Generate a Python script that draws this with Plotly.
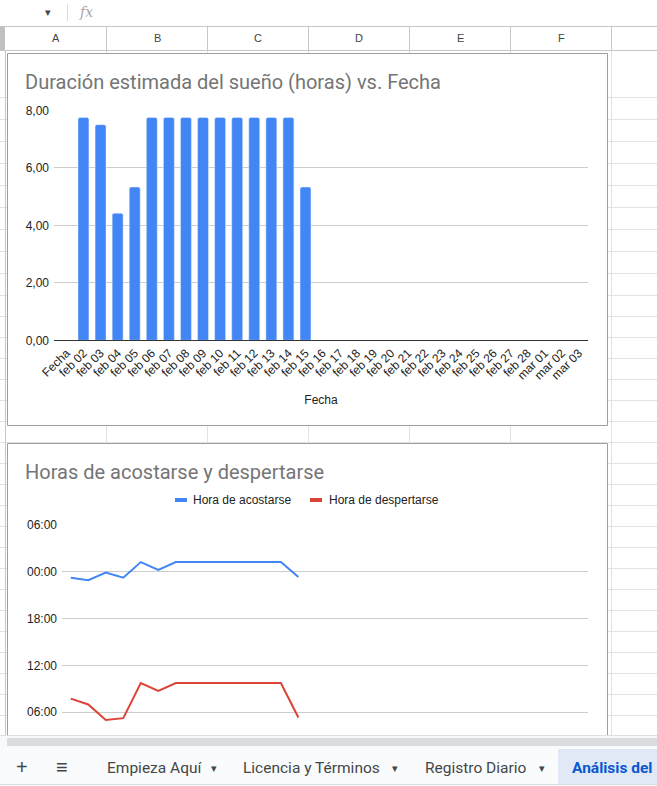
import plotly.graph_objects as go

# ---------------- data ----------------
fechas_1 = ["Fecha", "feb 02", "feb 03", "feb 04", "feb 05", "feb 06", "feb 07", "feb 08",
            "feb 09", "feb 10", "feb 11", "feb 12", "feb 13", "feb 14", "feb 15", "feb 16",
            "feb 17", "feb 18", "feb 19", "feb 20", "feb 21", "feb 22", "feb 23", "feb 24",
            "feb 25", "feb 26", "feb 27", "feb 28", "mar 01", "mar 02", "mar 03"]
duracion_horas = [None, 7.75, 7.5, 4.42, 5.33, 7.75, 7.75, 7.75, 7.75, 7.75, 7.75, 7.75,
                  7.75, 7.75, 5.33, None, None, None, None, None, None, None, None, None,
                  None, None, None, None, None, None, None]

fechas_2 = fechas_1[1:]
hora_acostarse = ["23:15", "22:55", "23:55", "23:15", "01:15", "00:15", "01:15", "01:15",
                  "01:15", "01:15", "01:15", "01:15", "01:15", "23:20"]
hora_despertarse = ["07:45", "07:00", "05:00", "05:15", "09:45", "08:45", "09:45", "09:45",
                    "09:45", "09:45", "09:45", "09:45", "09:45", "05:20"]
y_ticks_1 = [0, 2, 4, 6, 8]
y_ticks_2 = [6, 12, 18, 24, 30]
y_ticktext_2 = ["06:00", "12:00", "18:00", "00:00", "06:00"]

sheet_cols = ["A", "B", "C", "D", "E", "F"]
sheet_tabs = ["Empieza Aquí", "Licencia y Términos", "Registro Diario"]
active_tab = "Análisis del"


def to_hours(s, night=False):
    h, m = s.split(":")
    v = int(h) + int(m) / 60
    if night and v < 12:
        v += 24
    return v


acostarse_y = [to_hours(s, night=True) for s in hora_acostarse]
despertarse_y = [to_hours(s) for s in hora_despertarse]

# ---------------- geometry helpers ----------------
W, H = 657, 786


def px(x):
    return x / W


def py(y):
    return 1 - y / H


BLUE = "#4285F4"
RED = "#DB4437"
GRID = "#cccccc"
CELL = "#e2e2e2"
HDR = "#c7c7c7"
FONT = "Liberation Sans, Arial, sans-serif"
TFONT = "Roboto, Arial, sans-serif"

fig = go.Figure()

fig.add_trace(go.Bar(x=fechas_1, y=duracion_horas, marker_color=BLUE,
                     xaxis="x", yaxis="y", hoverinfo="x+y"))
fig.add_trace(go.Scatter(x=fechas_2[:len(acostarse_y)], y=acostarse_y, mode="lines",
                         line=dict(color=BLUE, width=2), xaxis="x2", yaxis="y2",
                         name="Hora de acostarse"))
fig.add_trace(go.Scatter(x=fechas_2[:len(despertarse_y)], y=despertarse_y, mode="lines",
                         line=dict(color=RED, width=2), xaxis="x2", yaxis="y2",
                         name="Hora de despertarse"))

shapes = []
annots = []


def line(x0, y0, x1, y1, color, width=1, layer="below"):
    shapes.append(dict(type="line", xref="paper", yref="paper", x0=px(x0), y0=py(y0),
                       x1=px(x1), y1=py(y1), line=dict(color=color, width=width), layer=layer))


def rect(x0, y0, x1, y1, fill, lc=None, lw=0, layer="below"):
    shapes.append(dict(type="rect", xref="paper", yref="paper", x0=px(x0), y0=py(y0),
                       x1=px(x1), y1=py(y1), fillcolor=fill,
                       line=dict(color=lc or fill, width=lw), layer=layer))


def text(x, y, t, size=12, color="#222222", xanchor="left", family=FONT, **kw):
    if xanchor == "left":
        x -= 2
    annots.append(dict(xref="paper", yref="paper", x=px(x), y=py(y), text=t, showarrow=False,
                       xanchor=xanchor, yanchor="middle",
                       font=dict(size=size, color=color, family=family), **kw))


# ---- spreadsheet background ----
col_edges = [5.5, 106.5, 207.5, 308.5, 409.5, 510.5, 611.5]
row_lines = [97 + 22 * k for k in range(10)] + [316 + 21 * k for k in range(20)]
for y in row_lines:
    if 50 < y < 735:
        line(0, y + 0.5, W, y + 0.5, CELL)
for x in col_edges[1:]:
    line(x, 50, x, 735, CELL)
line(5.5, 50, 5.5, 735, HDR)
# header row
rect(0, 26, 5, 50, "#c0c0c0")
line(0, 26.5, W, 26.5, HDR)
line(0, 50.5, W, 50.5, HDR)
for x in col_edges[1:]:
    line(x, 26, x, 50, HDR)
for i, c in enumerate(sheet_cols):
    text((col_edges[i] + col_edges[i + 1]) / 2, 37.5, c, size=11, color="#444444", xanchor="center")
# toolbar
text(48, 12, "▾", size=11, color="#444444", xanchor="center")
line(67.5, 4, 67.5, 21, "#dadce0")
text(86, 12, "<i>fx</i>", size=14, color="#a8a8a8", xanchor="center", family="DejaVu Serif, serif")

# ---- chart boxes ----
rect(7.5, 53.5, 607.5, 425.5, "white", "#9e9e9e", 1)
rect(7.5, 443.5, 607.5, 760, "white", "#9e9e9e", 1)

# titles
text(25, 82, "Duración estimada del sueño (horas) vs. Fecha", size=20, color="#757575", family=TFONT)
text(25, 472, "Horas de acostarse y despertarse", size=20, color="#757575", family=TFONT)

# legend chart 2
rect(175, 498, 187, 502, BLUE)
text(193, 500, "Hora de acostarse")
rect(310, 498, 322, 502, RED)
text(329, 500, "Hora de despertarse")

# ---- bottom: scrollbar + tab bar (above everything) ----
rect(0, 735, W, 748, "#f8f9fa", layer="above")
line(0, 735.5, W, 735.5, "#e0e0e0", layer="above")
rect(7, 738, W, 746, "#dadce0", layer="above")
rect(0, 748, W, H, "#f9fbfd", layer="above")
line(0, 784.5, W, 784.5, "#dadce0", layer="above")
rect(558, 749, W, 784, "#e1e9f7", layer="above")
text(22, 767, "+", size=20, color="#444746", xanchor="center")
text(62, 767, "≡", size=20, color="#444746", xanchor="center")
tab_x = [107, 243, 425]
tab_arrow = [214, 395, 542]
for tx, ta, t in zip(tab_x, tab_arrow, sheet_tabs):
    text(tx, 768, t, size=15.5, color="#444746", family=TFONT)
    text(ta, 768, "▾", size=11, color="#444746", xanchor="center")
text(572, 768, "<b>" + active_tab + "</b>", size=15.5, color="#0b57d0", family=TFONT)

fig.update_layout(
    width=W, height=H, margin=dict(l=0, r=0, t=0, b=0, autoexpand=False),
    paper_bgcolor="white", plot_bgcolor="rgba(0,0,0,0)",
    showlegend=False, separators=",.", bargap=0.36,
    barcornerradius=2,
    shapes=shapes, annotations=annots,
    font=dict(family=FONT, size=12, color="#222222"),
    xaxis=dict(domain=[px(54), px(588)], anchor="y", type="category", automargin=False,
               categoryorder="array", categoryarray=fechas_1,
               range=[-0.726, 30.54], tickangle=-45, showgrid=False,
               showline=True, linecolor="#333333", linewidth=1, ticks="",
               tickfont=dict(size=12, color="#222222"),
               title=dict(text="Fecha", font=dict(size=12, color="#222222"), standoff=14)),
    yaxis=dict(domain=[py(340.3), py(110.3)], anchor="x", range=[0, 8], automargin=False,
               tickvals=y_ticks_1, tickformat=".2f", gridcolor=GRID, zeroline=False,
               showline=False, ticks="", ticklabelstandoff=4,
               tickfont=dict(size=12, color="#222222")),
    xaxis2=dict(domain=[px(62), px(588)], anchor="y2", type="category", automargin=False,
                categoryorder="array", categoryarray=fechas_2,
                range=[-0.5, 29.54], showgrid=False, showticklabels=False,
                showline=True, linecolor="#333333", ticks=""),
    yaxis2=dict(domain=[py(759.1), py(525)], anchor="x2", range=[0, 30], automargin=False,
                tickvals=y_ticks_2, ticktext=y_ticktext_2, gridcolor=GRID, zeroline=False,
                showline=False, ticks="", ticklabelstandoff=4,
                tickfont=dict(size=12, color="#222222")),
)

fig.write_html("out.html", config={"displayModeBar": False},
               post_script="document.body.style.margin='0px';")
